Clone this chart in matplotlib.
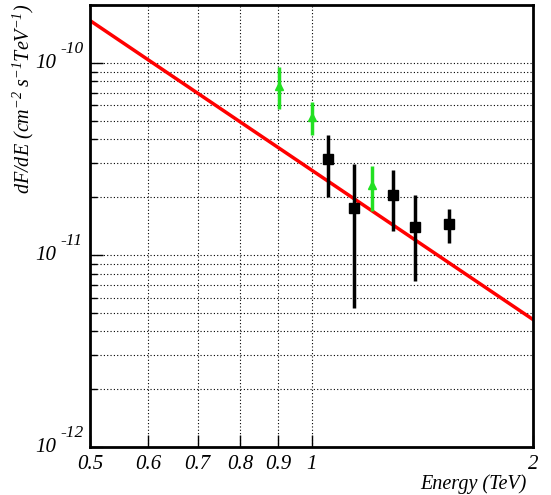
import numpy as np
import matplotlib
matplotlib.use("Agg")
import matplotlib.pyplot as plt
from matplotlib.ticker import FixedLocator, NullFormatter, LogLocator
from matplotlib.transforms import offset_copy

plt.rcParams['font.family'] = ['Liberation Serif', 'DejaVu Serif']
plt.rcParams['font.style'] = 'italic'
plt.rcParams['mathtext.fontset'] = 'custom'
plt.rcParams['mathtext.rm'] = 'Liberation Serif:italic'
plt.rcParams['mathtext.it'] = 'Liberation Serif:italic'

# --- données ---
# points mesurés (noirs)
e_pts = [1.054, 1.141, 1.289, 1.381, 1.539]
f_pts = [3.14e-11, 1.76e-11, 2.05e-11, 1.40e-11, 1.45e-11]
f_hi = [4.23e-11, 2.96e-11, 2.76e-11, 2.05e-11, 1.74e-11]
f_lo = [2.00e-11, 5.3e-12, 1.33e-11, 7.31e-12, 1.16e-11]

# limites inférieures (vertes)
e_lim = [0.904, 1.0, 1.21]
f_lim = [7.56e-11, 5.21e-11, 2.31e-11]
f_lim_hi = [9.53e-11, 6.27e-11, 2.92e-11]
f_lim_lo = [5.77e-11, 4.20e-11, 1.69e-11]

# ajustement en loi de puissance (extrémités)
e_fit = [0.5, 2.0]
f_fit = [1.66e-10, 4.61e-12]

xticks = [0.5, 0.6, 0.7, 0.8, 0.9, 1, 2]
xticklabels = ['0.5', '0.6', '0.7', '0.8', '0.9', '1', '2']
yticks = [1e-12, 1e-11, 1e-10]
yexponents = ['-12', '-11', '-10']

fig = plt.figure(figsize=(5.51, 4.95), dpi=100)
ax = fig.add_axes([90 / 551, 1 - 447 / 495, 443 / 551, 442 / 495])
ax.set_xscale('log')
ax.set_yscale('log')
ax.set_xlim(0.5, 2)
ax.set_ylim(1e-12, 2e-10)

# grille pointillée
for x in xticks[1:-1]:
    ax.axvline(x, color='black', lw=0.8, ls=(0, (1, 2)), zorder=0)
for dec in [1e-12, 1e-11, 1e-10]:
    for m in range(1, 10):
        y = m * dec
        if 1e-12 < y < 2e-10:
            ax.axhline(y, color='black', lw=0.8, ls=(0, (1, 2)), zorder=0)

ax.plot(e_fit, f_fit, color='#ff0000', lw=2.5, zorder=2)

ax.errorbar(e_lim, f_lim,
            yerr=[np.array(f_lim) - np.array(f_lim_lo), np.array(f_lim_hi) - np.array(f_lim)],
            fmt='^', color='#22e022', ms=6, elinewidth=2.5, capsize=0, zorder=3)
ax.errorbar(e_pts, f_pts,
            yerr=[np.array(f_pts) - np.array(f_lo), np.array(f_hi) - np.array(f_pts)],
            fmt='s', color='black', ms=7, elinewidth=2.5, capsize=0, zorder=4)

ax.xaxis.set_major_locator(FixedLocator(xticks))
ax.set_xticklabels(xticklabels)
ax.xaxis.set_minor_formatter(NullFormatter())
ax.xaxis.set_minor_locator(FixedLocator([]))
ax.yaxis.set_major_locator(FixedLocator(yticks))
ax.yaxis.set_major_formatter(NullFormatter())
ax.yaxis.set_minor_locator(LogLocator(base=10, subs=np.arange(2, 10)))
ax.yaxis.set_minor_formatter(NullFormatter())

ax.tick_params(axis='both', which='major', direction='in', length=9, width=1,
               labelsize=15, pad=6)
ax.tick_params(axis='both', which='minor', direction='in', length=5, width=1)

# étiquettes de l'axe y façon ROOT : "10" et exposant décalé
ytrans = ax.get_yaxis_transform()
for yv, ex in zip(yticks, yexponents):
    ax.text((56 - 90) / 443, yv, '10', transform=offset_copy(ytrans, fig, y=-1, units='dots'),
            ha='right', va='center', fontsize=15, clip_on=False)
    ax.text((60 - 90) / 443, yv, ex, transform=offset_copy(ytrans, fig, y=14, units='dots'),
            ha='left', va='center', fontsize=12.5, clip_on=False)

for s in ax.spines.values():
    s.set_linewidth(2)

fig.text(23 / 551, 1 - 3 / 495, r'dF/dE (cm$^{-2}$ s$^{-1}$TeV$^{-1}$)',
         rotation=90, ha='center', va='top', fontsize=14.5)
fig.text(527 / 551, 1 - 484 / 495, 'Energy (TeV)', ha='right', va='center', fontsize=14.5)

fig.savefig('out.png', dpi=100)
